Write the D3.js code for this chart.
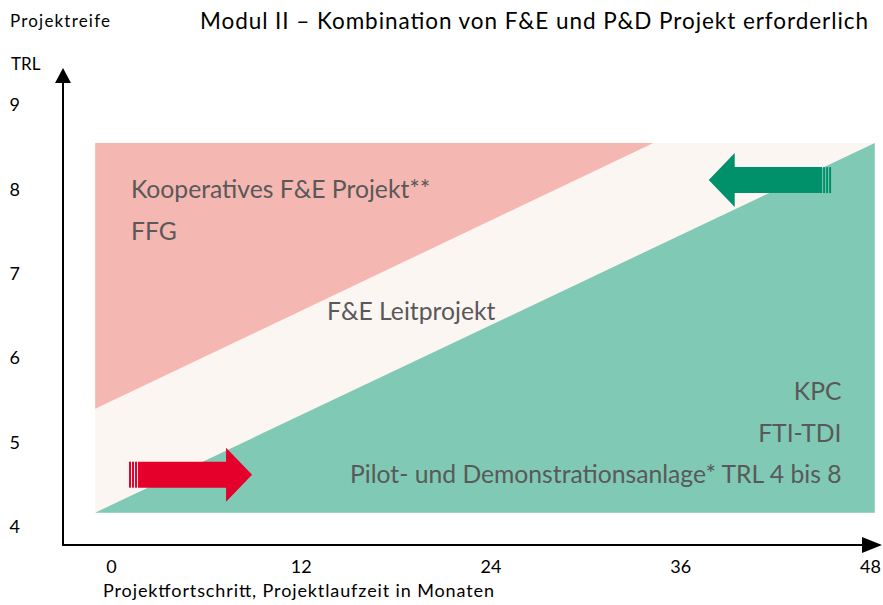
<!DOCTYPE html>
<meta charset="utf-8">
<script src="https://d3js.org/d3.v7.min.js"></script>
<style>
  body { margin: 0; background: #fff; }
  text { font-family: Lato, "Open Sans", sans-serif; }
</style>
<div id="chart"></div>
<script>
// axis ticks
const monthTicks = [0, 12, 24, 36, 48];
const trlTicks = [4, 5, 6, 7, 8, 9];

// shaded areas, in months / TRL
const areaBox = { m0: -1.0, m1: 48.3, trl0: 4.17, trl1: 8.55 };
const pinkArea = [[-1.0, 8.55], [34.3, 8.55], [-1.0, 5.40]];
const greenArea = [[-1.0, 4.17], [48.3, 4.17], [48.3, 8.55]];

// arrows: tail month, tip month, TRL level
const arrows = [
  { from: 1.14, to: 8.92, trl: 4.62, color: "#e4002b" },
  { from: 45.54, to: 37.8, trl: 8.11, color: "#00916a" }
];

// labels inside the chart
const labels = [
  { text: "Kooperatives F&E Projekt**", m: 1.26, trl: 8.0, anchor: "start" },
  { text: "FFG", m: 1.26, trl: 7.5, anchor: "start" },
  { text: "F&E Leitprojekt", m: 13.66, trl: 6.55, anchor: "start" },
  { text: "KPC", m: 46.2, trl: 5.61, anchor: "end" },
  { text: "FTI-TDI", m: 46.2, trl: 5.11, anchor: "end" },
  { text: "Pilot- und Demonstrationsanlage* TRL 4 bis 8", m: 46.2, trl: 4.62, anchor: "end" }
];

const W = 883, H = 605;
const svg = d3.select("#chart").append("svg")
  .attr("width", W).attr("height", H);

const x = d3.scaleLinear().domain([0, 48]).range([111, 870]);
const y = d3.scaleLinear().domain([4, 9]).range([527, 105]);

const axisX0 = 63, axisY0 = 545;

// background band
svg.append("rect")
  .attr("x", x(areaBox.m0)).attr("y", y(areaBox.trl1))
  .attr("width", x(areaBox.m1) - x(areaBox.m0))
  .attr("height", y(areaBox.trl0) - y(areaBox.trl1))
  .attr("fill", "#fcf6f3");

const line = d3.line().x(d => x(d[0])).y(d => y(d[1]));
svg.append("path").attr("d", line(pinkArea) + "Z").attr("fill", "#f5b7b1");
svg.append("path").attr("d", line(greenArea) + "Z").attr("fill", "#80c9b4");

// arrows
arrows.forEach(a => {
  const dir = a.to > a.from ? 1 : -1;
  const tail = x(a.from), tip = x(a.to), cy = y(a.trl);
  const headLen = 26, shaft = 13, head = 27;
  const base = tip - dir * headLen;
  const bodyStart = tail + dir * 9;
  const g = svg.append("g").attr("fill", a.color);
  g.append("path").attr("d", d3.line()([
    [bodyStart, cy - shaft], [base, cy - shaft], [base, cy - head], [tip, cy],
    [base, cy + head], [base, cy + shaft], [bodyStart, cy + shaft]
  ]) + "Z");
  [0, 3, 6].forEach(o => {
    const s0 = tail + dir * o, s1 = tail + dir * (o + 2);
    g.append("rect")
      .attr("x", Math.min(s0, s1)).attr("y", cy - shaft)
      .attr("width", 2).attr("height", shaft * 2);
  });
});

// labels
svg.selectAll("text.lbl").data(labels).join("text")
  .attr("class", "lbl")
  .attr("x", d => x(d.m)).attr("y", d => y(d.trl))
  .attr("dy", "0.35em")
  .attr("text-anchor", d => d.anchor)
  .attr("fill", "#595959")
  .style("font-size", "24.7px")
  .text(d => d.text);

// axes lines with arrow heads
svg.append("line").attr("x1", axisX0).attr("y1", axisY0).attr("x2", axisX0).attr("y2", 80)
  .attr("stroke", "#000").attr("stroke-width", 2);
svg.append("path").attr("d", d3.line()([[axisX0 - 8, 83], [axisX0, 68], [axisX0 + 8, 83]]) + "Z");
svg.append("line").attr("x1", axisX0 - 1).attr("y1", axisY0).attr("x2", 866).attr("y2", axisY0)
  .attr("stroke", "#000").attr("stroke-width", 2);
svg.append("path").attr("d", d3.line()([[862, axisY0 - 8], [882, axisY0], [862, axisY0 + 8]]) + "Z");

// tick labels
const gx = svg.append("g").attr("transform", "translate(0,560)")
  .call(d3.axisBottom(x).tickValues(monthTicks).tickSize(0).tickPadding(0).tickFormat(d3.format("d")));
gx.select(".domain").remove();
gx.selectAll("text").style("font-size", "18px").style("font-family", "Lato").attr("fill", "#000");

const gy = svg.append("g").attr("transform", "translate(20,0)")
  .call(d3.axisLeft(y).tickValues(trlTicks).tickSize(0).tickPadding(0).tickFormat(d3.format("d")));
gy.select(".domain").remove();
gy.selectAll("text").style("font-size", "18px").style("font-family", "Lato").attr("fill", "#000");

// titles
svg.append("text").attr("x", 10).attr("y", 27).style("font-size", "17px")
  .attr("textLength", 100).attr("lengthAdjust", "spacing").text("Projektreife");
svg.append("text").attr("x", 11).attr("y", 70).style("font-size", "17px").text("TRL");
svg.append("text").attr("x", 200).attr("y", 29).style("font-size", "22.5px")
  .attr("textLength", 668).attr("lengthAdjust", "spacing")
  .text("Modul II – Kombination von F&E und P&D Projekt erforderlich");
svg.append("text").attr("x", 103).attr("y", 597).style("font-size", "18px")
  .attr("textLength", 391).attr("lengthAdjust", "spacing")
  .text("Projektfortschritt, Projektlaufzeit in Monaten");
</script>
